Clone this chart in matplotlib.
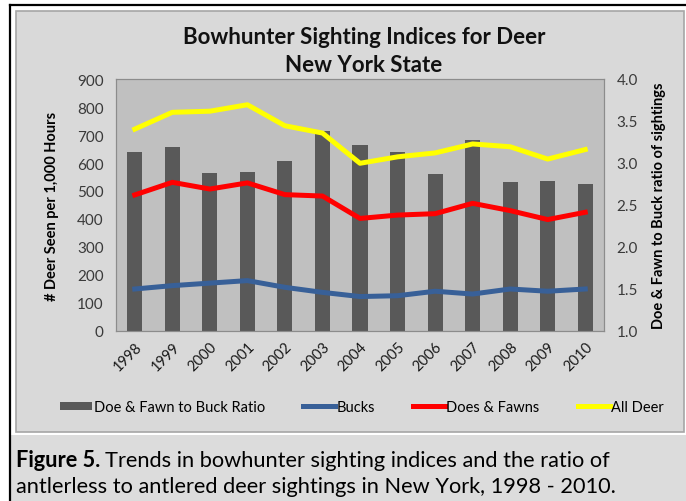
import matplotlib.pyplot as plt
import numpy as np
from matplotlib.patches import Rectangle
from matplotlib.lines import Line2D

plt.rcParams['font.family'] = ['Lato', 'DejaVu Sans']

years = ['1998', '1999', '2000', '2001', '2002', '2003', '2004',
         '2005', '2006', '2007', '2008', '2009', '2010']
ratio = [3.13, 3.19, 2.88, 2.89, 3.02, 3.38, 3.22, 3.13, 2.87, 3.27, 2.77, 2.78, 2.75]
bucks = [150, 162, 171, 180, 156, 138, 123, 126, 142, 132, 150, 142, 150]
does_fawns = [486, 531, 507, 529, 487, 482, 402, 414, 419, 456, 430, 398, 424]
all_deer = [721, 781, 785, 808, 733, 707, 599, 622, 636, 668, 658, 614, 648]

W, H = 686, 502
fig = plt.figure(figsize=(W / 100, H / 100), dpi=100)
fig.patch.set_facecolor('white')


def fx(px):
    return px / W


def fy(py):
    return 1 - py / H


# outer black frame (left and top visible) and panel backgrounds
fig.add_artist(Line2D([fx(10), fx(10)], [fy(6), 0], color='black', lw=1.6, zorder=-5))
fig.add_artist(Line2D([fx(10), 1], [fy(6), fy(6)], color='black', lw=1.6, zorder=-5))
fig.add_artist(Rectangle((fx(16), fy(433)), fx(684) - fx(16), fy(12) - fy(433),
                         facecolor='#d9d9d9', edgecolor='#a6a6a6', lw=1.2, zorder=-10))
fig.add_artist(Rectangle((fx(11), 0), 1 - fx(11), fy(436),
                         facecolor='#dcdcdc', edgecolor='none', zorder=-10))

ax = fig.add_axes([fx(116), fy(332), fx(604) - fx(116), fy(80) - fy(332)])

x = np.arange(len(years))

# bars on the secondary axis
ax2 = ax.twinx()
ax2.bar(x, ratio, width=0.4, color='#595959', zorder=1,
        label='Doe & Fawn to Buck Ratio')
ax2.set_ylim(1.0, 4.0)
ax2.set_yticks(np.arange(1.0, 4.01, 0.5))
ax2.set_yticklabels([f'{v:.1f}' for v in np.arange(1.0, 4.01, 0.5)])

# lines drawn on top of the bars
ax.set_zorder(ax2.get_zorder() + 1)
ax.patch.set_visible(False)
ax2.patch.set_visible(True)
ax2.patch.set_facecolor('#c0c0c0')
ax.plot(x, bucks, color='#386098', lw=3.6, label='Bucks')
ax.plot(x, does_fawns, color='#ff0000', lw=3.6, label='Does & Fawns')
ax.plot(x, all_deer, color='#ffff00', lw=3.6, label='All Deer')
ax.set_ylim(0, 900)
ax.set_yticks(range(0, 901, 100))
ax.set_xlim(-0.5, len(years) - 0.5)
ax.set_xticks(x)
ax.set_xticklabels(years, rotation=45, ha='right', va='top',
                   rotation_mode='anchor', color='#1a1a1a')

for a in (ax, ax2):
    a.tick_params(length=0, pad=9, labelsize=11, colors='#3a3a3a')
    for s in a.spines.values():
        s.set_color('#8c8c8c')
ax.tick_params(axis='x', pad=6, labelsize=10.5, colors='#1a1a1a')

ax.set_ylabel('# Deer Seen per 1,000 Hours', fontsize=10.5, fontweight='bold', labelpad=13)
ax2.set_ylabel('Doe & Fawn to Buck ratio of sightings', fontsize=10.5, fontweight='bold',
               labelpad=10)

fig.text(fx(364), fy(37), 'Bowhunter Sighting Indices for Deer', ha='center', va='center',
         fontsize=16, fontweight='bold', color='#111111')
fig.text(fx(364), fy(66), 'New York State', ha='center', va='center',
         fontsize=16, fontweight='bold', color='#111111')

h2, l2 = ax2.get_legend_handles_labels()
h1, l1 = ax.get_legend_handles_labels()
fig.legend(h2 + h1, l2 + l1, loc='center left', bbox_to_anchor=(fx(47), fy(408)),
           ncol=4, frameon=False, fontsize=10.5, handlelength=2.2, handleheight=0.5,
           handletextpad=0.1, columnspacing=2.6)

# caption with bold "Figure 5."
t1 = fig.text(fx(16), fy(467), 'Figure 5.', fontsize=15.7, fontweight='bold', va='baseline')
fig.canvas.draw()
bb = t1.get_window_extent()
fig.text(bb.x1 / W + fx(5), fy(467), 'Trends in bowhunter sighting indices and the ratio of',
         fontsize=15.7, va='baseline')
fig.text(fx(16), fy(493), 'antlerless to antlered deer sightings in New York, 1998 - 2010.',
         fontsize=15.7, va='baseline')

fig.savefig('out.png', dpi=100, facecolor=fig.get_facecolor())
